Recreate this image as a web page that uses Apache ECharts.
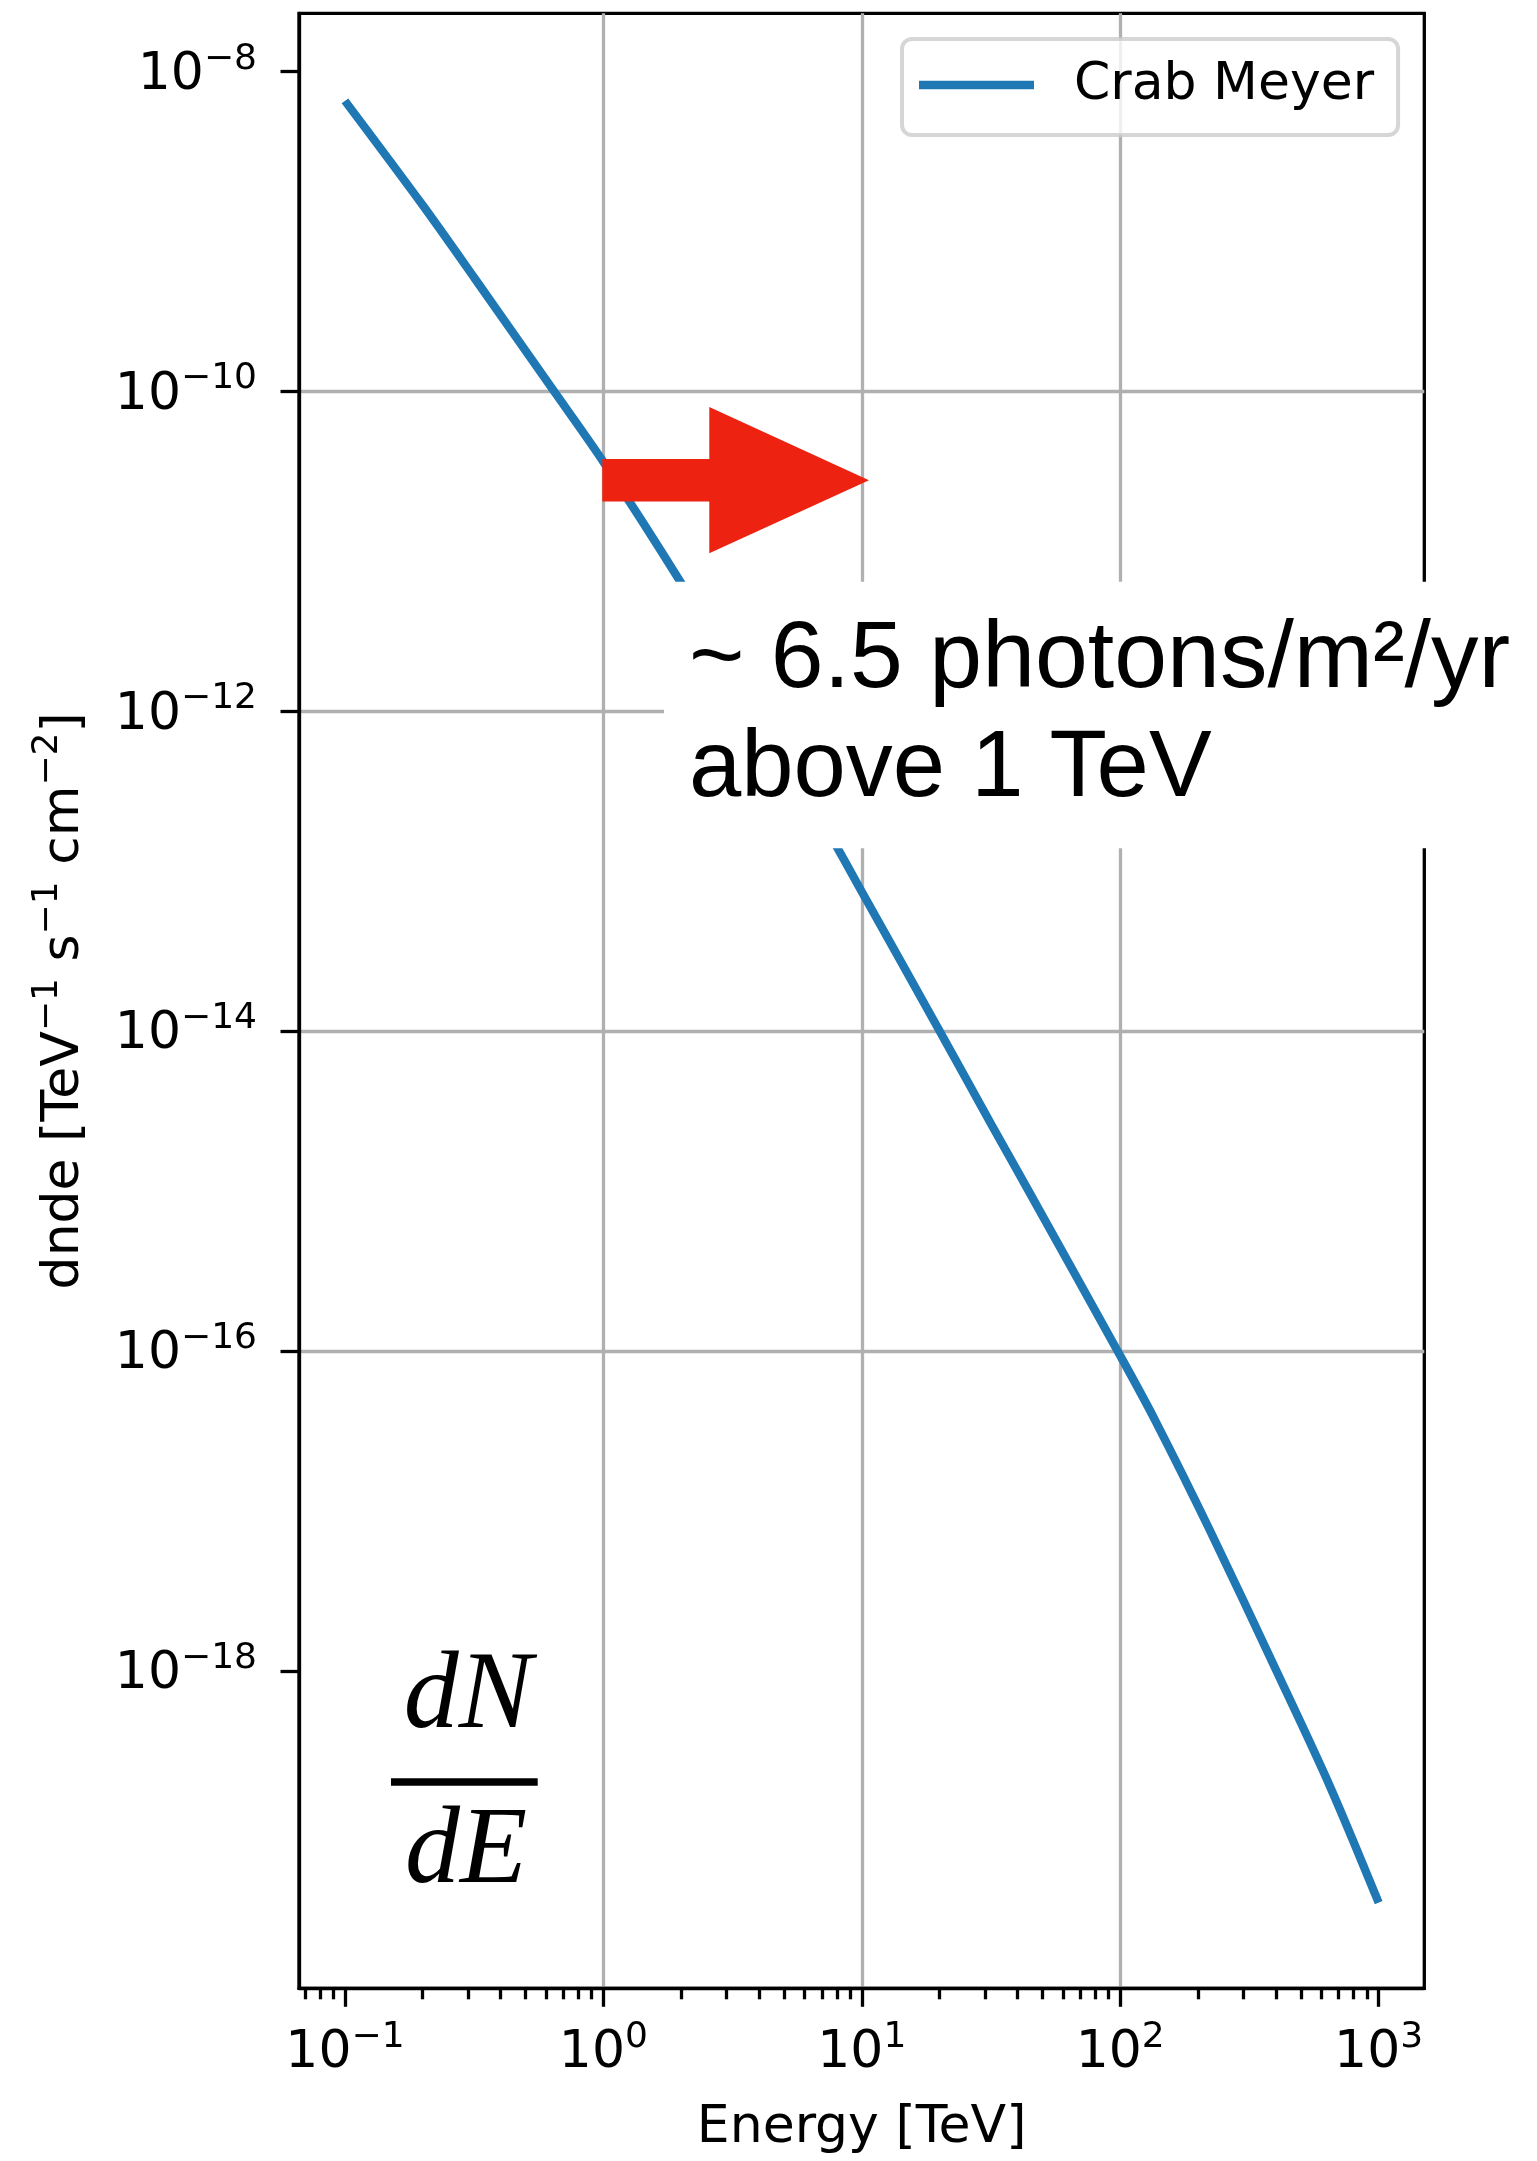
<!DOCTYPE html>
<html>
<head>
<meta charset="utf-8">
<script src="https://cdn.jsdelivr.net/npm/echarts@6/dist/echarts.min.js"></script>
<style>
html,body{margin:0;padding:0;background:#fff;}
#chart{width:1537px;height:2161px;}
</style>
</head>
<body>
<div id="chart"></div>
<script>
// ---- data ----
const seriesName = 'Crab Meyer';
const energy = [0.1, 0.2, 0.316, 0.63, 1, 2, 3.16, 5, 7.94, 10, 20, 31.6, 44.2, 100, 136, 222, 402, 647, 1000];
const dnde = [6.52e-9, 1.45e-9, 5.13e-10, 1.05e-10, 3.61e-11, 6.31e-12, 1.82e-12, 5.13e-13, 1.445e-13, 7.41e-14,
              1.0e-14, 2.63e-15, 1.0e-15, 9.33e-17, 3.72e-17, 7.59e-18, 1.0e-18, 1.905e-19, 3.55e-20];
const xMajorTicks = [0.1, 1, 10, 100, 1000];
const xMinorTicks = [0.07, 0.08, 0.09,
                     0.2, 0.3, 0.4, 0.5, 0.6, 0.7, 0.8, 0.9,
                     2, 3, 4, 5, 6, 7, 8, 9,
                     20, 30, 40, 50, 60, 70, 80, 90,
                     200, 300, 400, 500, 600, 700, 800, 900];
const yMajorTicks = [1e-18, 1e-16, 1e-14, 1e-12, 1e-10, 1e-8];
const xRange = [0.0664, 1502];
const yRange = [1.035e-20, 2.30e-8];
const xAxisTitle = 'Energy [TeV]';
const yAxisTitle = '{b|dnde [TeV}{s|−1}{b| s}{s|−1}{b| cm}{s|−2}{b|]}';
const noteLine1 = '~ 6.5 photons/m²/yr';
const noteLine2 = 'above 1 TeV';

// ---- styling ----
const FONT = 'DejaVu Sans';
const rich = {
  b: {fontFamily: FONT, fontSize: 52, lineHeight: 60, verticalAlign: 'bottom', color: '#000'},
  s: {fontFamily: FONT, fontSize: 36, lineHeight: 31, verticalAlign: 'top', color: '#000'}
};
function powLabel(v) {
  const e = Math.round(Math.log10(v));
  const s = (e < 0 ? '−' : '') + Math.abs(e);
  return '{b|10}{s|' + s + '}';
}
const gridColor = '#b0b0b0';
const LW = 3.3;

const chart = echarts.init(document.getElementById('chart'), null, {renderer: 'canvas'});
const option = {
  backgroundColor: '#fff',
  animation: false,
  textStyle: {fontFamily: FONT},
  grid: {left: 299, right: 112.7, top: 13.3, bottom: 172.7, containLabel: false, outerBoundsMode: 'none',
         show: true, borderColor: '#000', borderWidth: LW, backgroundColor: 'rgba(0,0,0,0)'},
  legend: {
    data: [seriesName], left: 902, top: 39, orient: 'horizontal',
    padding: [18, 24, 22, 17], icon: 'rect', itemWidth: 115, itemHeight: 8.3,
    backgroundColor: 'rgba(255,255,255,0.8)', borderColor: 'rgba(204,204,204,0.8)', borderWidth: 4, borderRadius: 10,
    textStyle: {fontFamily: FONT, fontSize: 52, lineHeight: 56, color: '#000', padding: [0, 0, 0, 35]},
    selectedMode: false
  },
  xAxis: [{
    type: 'log', logBase: 10, min: xRange[0], max: xRange[1], position: 'bottom',
    name: xAxisTitle, nameLocation: 'middle', nameGap: 114, nameMoveOverlap: false,
    nameTextStyle: {fontFamily: FONT, fontSize: 52, color: '#000', lineHeight: 52},
    axisLine: {show: true, lineStyle: {color: '#000', width: LW}},
    axisTick: {show: true, customValues: xMajorTicks, length: 18.5, lineStyle: {color: '#000', width: LW}},
    axisLabel: {show: true, customValues: xMajorTicks, margin: 31, formatter: powLabel, rich: rich},
    splitLine: {show: true, showMinLine: false, showMaxLine: false, lineStyle: {color: gridColor, width: LW}},
    minorTick: {show: false}, minorSplitLine: {show: false}
  }, {
    type: 'log', logBase: 10, min: xRange[0], max: xRange[1], position: 'bottom', offset: 0,
    axisLine: {show: false}, axisLabel: {show: false}, splitLine: {show: false},
    axisTick: {show: true, customValues: xMinorTicks, length: 11, lineStyle: {color: '#000', width: LW}}
  }],
  yAxis: [{
    type: 'log', logBase: 10, min: yRange[0], max: yRange[1], position: 'left',
    name: yAxisTitle, nameLocation: 'middle', nameRotate: 90, nameGap: 209, nameMoveOverlap: false,
    nameTextStyle: {fontFamily: FONT, fontSize: 52, color: '#000', rich: rich},
    axisLine: {show: true, lineStyle: {color: '#000', width: LW}},
    axisTick: {show: true, customValues: yMajorTicks, length: 18.5, lineStyle: {color: '#000', width: LW}},
    axisLabel: {show: true, customValues: yMajorTicks, margin: 42, formatter: powLabel, rich: rich},
    splitLine: {show: true, showMinLine: false, showMaxLine: false, lineStyle: {color: gridColor, width: LW}},
    minorTick: {show: false}, minorSplitLine: {show: false}
  }],
  series: [{
    name: seriesName, type: 'line', xAxisIndex: 0, yAxisIndex: 0,
    data: energy.map((e, i) => [e, dnde[i]]),
    showSymbol: false, symbol: 'none', smooth: 0.3,
    lineStyle: {color: '#1f77b4', width: 8.3, cap: 'butt'},
    itemStyle: {color: '#1f77b4'},
    z: 3
  }],
  graphic: {elements: [
    // red arrow pointing right (overlay)
    {type: 'polygon', z: 100, silent: true,
     shape: {points: [[602.3, 459], [709.3, 459], [709.3, 407], [869, 480.3], [709.3, 553.3], [709.3, 501.5], [602.3, 501.5]]},
     style: {fill: '#ED2210'}},
    // white box behind the note
    {type: 'rect', z: 100, silent: true,
     shape: {x: 664, y: 581.7, width: 900, height: 266.6}, style: {fill: '#fff'}},
    {type: 'text', z: 101, silent: true,
     style: {text: noteLine1, x: 689, y: 660.5, font: '95px "Liberation Sans"', fill: '#000',
             textAlign: 'left', verticalAlign: 'middle', textVerticalAlign: 'middle'}},
    {type: 'text', z: 101, silent: true,
     style: {text: noteLine2, x: 689, y: 770.5, font: '94px "Liberation Sans"', fill: '#000',
             textAlign: 'left', verticalAlign: 'middle', textVerticalAlign: 'middle'}},
    // dN/dE fraction overlay
    {type: 'rect', z: 100, silent: true,
     shape: {x: 382.7, y: 1645, width: 186.3, height: 265}, style: {fill: '#fff'}},
    {type: 'text', z: 101, silent: true,
     style: {text: 'dN', x: 468, y: 1697.9, font: 'italic 110px "Liberation Serif"', fill: '#000',
             textAlign: 'center', verticalAlign: 'middle', textVerticalAlign: 'middle'}},
    {type: 'rect', z: 101, silent: true,
     shape: {x: 391, y: 1778.3, width: 146.7, height: 7.4}, style: {fill: '#000'}},
    {type: 'text', z: 101, silent: true,
     style: {text: 'dE', x: 466, y: 1852.9, font: 'italic 110px "Liberation Serif"', fill: '#000',
             textAlign: 'center', verticalAlign: 'middle', textVerticalAlign: 'middle'}}
  ]}
};
chart.setOption(option);
</script>
</body>
</html>
